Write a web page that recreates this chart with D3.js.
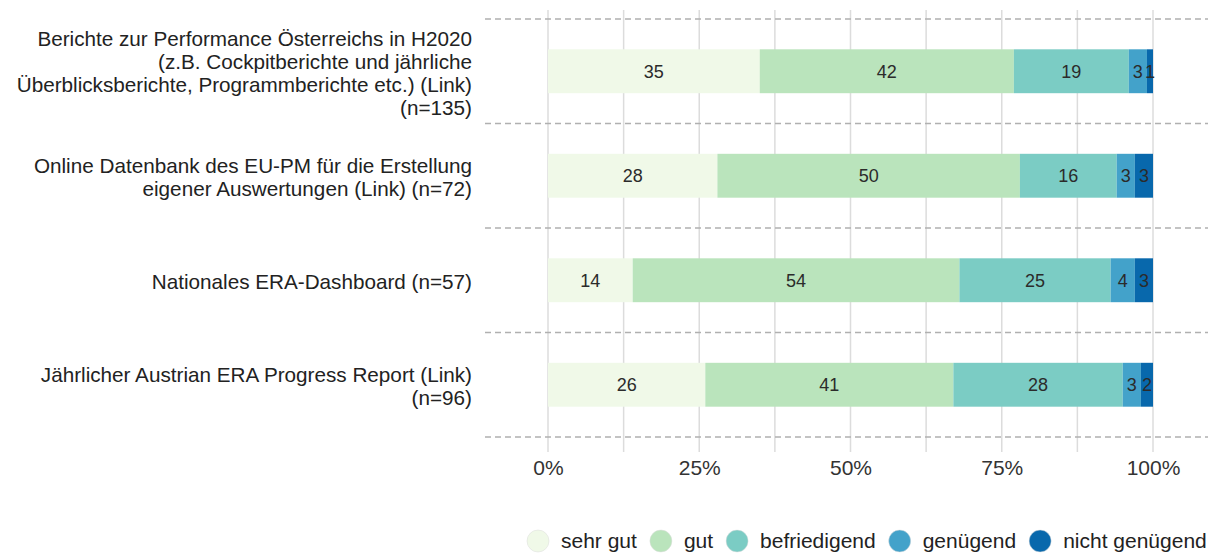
<!DOCTYPE html>
<html>
<head>
<meta charset="utf-8">
<script src="https://cdn.jsdelivr.net/npm/d3@7"></script>
<style>
  body { margin: 0; background: #fff; }
  text { font-family: Arial, "Liberation Sans", sans-serif; }
</style>
</head>
<body>
<div id="chart"></div>
<script>
// rating of the EU-PM reports, stacked to 100%
var categories = [
    "Berichte zur Performance Österreichs in H2020\n(z.B. Cockpitberichte und jährliche\nÜberblicksberichte, Programmberichte etc.) (Link)\n(n=135)",
    "Online Datenbank des EU-PM für die Erstellung\neigener Auswertungen (Link) (n=72)",
    "Nationales ERA-Dashboard (n=57)",
    "Jährlicher Austrian ERA Progress Report (Link)\n(n=96)"
]
var levels = ["sehr gut", "gut", "befriedigend", "genügend", "nicht genügend"]
var colors = ["#f0f9e8", "#bae4bc", "#7bccc4", "#43a2ca", "#0868ac"]

var sehrGut = [35, 28, 14, 26]
var gut = [42, 50, 54, 41]
var befriedigend = [19, 16, 25, 28]
var genuegend = [3, 3, 4, 3]
var nichtGenuegend = [1, 3, 3, 2]

var xTicks = [0, 25, 50, 75, 100]
var gridTicks = [0, 12.5, 25, 37.5, 50, 62.5, 75, 87.5, 100]

var width = 1208
var height = 554

var svg = d3.select("#chart")
    .append("svg")
    .attr("width", width)
    .attr("height", height)

// build rows for the stack
var rows = categories.map(function (c, i) {
    return {
        cat: c,
        "sehr gut": sehrGut[i],
        "gut": gut[i],
        "befriedigend": befriedigend[i],
        "genügend": genuegend[i],
        "nicht genügend": nichtGenuegend[i]
    }
})
var series = d3.stack().keys(levels)(rows)

var x = d3.scaleLinear()
    .domain([0, 100])
    .range([548, 1153])

var y = d3.scaleBand()
    .domain(categories)
    .range([19, 437])
    .paddingInner(0.58)
    .paddingOuter(0.29)

var color = d3.scaleOrdinal().domain(levels).range(colors)

// vertical grid
svg.append("g")
    .selectAll("line")
    .data(gridTicks)
    .join("line")
    .attr("x1", d => x(d))
    .attr("x2", d => x(d))
    .attr("y1", 10)
    .attr("y2", 452)
    .attr("stroke", "#dcdcdc")
    .attr("stroke-width", 1.5)

// dashed separators between categories
var gap = (y.step() - y.bandwidth()) / 2
var seps = categories.map(c => y(c) - gap)
seps.push(y(categories[categories.length - 1]) + y.bandwidth() + gap)

svg.append("g")
    .selectAll("line")
    .data(seps)
    .join("line")
    .attr("x1", 485)
    .attr("x2", width)
    .attr("y1", d => d)
    .attr("y2", d => d)
    .attr("stroke", "#b0b0b0")
    .attr("stroke-width", 1.3)
    .attr("stroke-dasharray", "6,4")

// bars
var layer = svg.append("g")
    .selectAll("g")
    .data(series)
    .join("g")
    .attr("fill", d => color(d.key))

layer.selectAll("rect")
    .data(d => d)
    .join("rect")
    .attr("x", d => x(d[0]))
    .attr("y", d => y(d.data.cat))
    .attr("width", d => x(d[1]) - x(d[0]))
    .attr("height", y.bandwidth())

// value labels
layer.selectAll("text")
    .data(d => d)
    .join("text")
    .attr("x", d => (x(d[0]) + x(d[1])) / 2)
    .attr("y", d => y(d.data.cat) + y.bandwidth() / 2)
    .attr("dy", "0.35em")
    .attr("text-anchor", "middle")
    .attr("font-size", 18)
    .attr("fill", "#2b2b2b")
    .text(d => d[1] - d[0])

// category labels
var lineH = 23
svg.append("g")
    .selectAll("text")
    .data(categories)
    .join("text")
    .attr("text-anchor", "end")
    .attr("font-size", 20.7)
    .attr("fill", "#222")
    .each(function (c) {
        var lines = c.split("\n")
        var cy = y(c) + y.bandwidth() / 2 + 2
        var t = d3.select(this)
        lines.forEach(function (l, i) {
            t.append("tspan")
                .attr("x", 472)
                .attr("y", cy + (i - (lines.length - 1) / 2) * lineH)
                .attr("dy", "0.35em")
                .text(l)
        })
    })

// x axis
var xAxis = g => g
    .attr("transform", "translate(0,457)")
    .call(d3.axisBottom(x).tickValues(xTicks).tickFormat(d => d + "%").tickSize(0))
    .call(g => g.select(".domain").remove())
    .call(g => g.selectAll("text")
        .attr("font-size", 21)
        .attr("font-family", "Arial, 'Liberation Sans', sans-serif")
        .attr("fill", "#333"))

svg.append("g").call(xAxis)

// legend
var legend = svg.append("g")
var lx = 538
levels.forEach(function (k) {
    legend.append("circle")
        .attr("cx", lx)
        .attr("cy", 541)
        .attr("r", 11)
        .attr("fill", color(k))
        .attr("stroke", "#ddd")
        .attr("stroke-width", 0.5)
    var t = legend.append("text")
        .attr("x", lx + 23)
        .attr("y", 541)
        .attr("dy", "0.35em")
        .attr("font-size", 21)
        .attr("fill", "#222")
        .text(k)
    lx = lx + 23 + t.node().getComputedTextLength() + 24
})
</script>
</body>
</html>
